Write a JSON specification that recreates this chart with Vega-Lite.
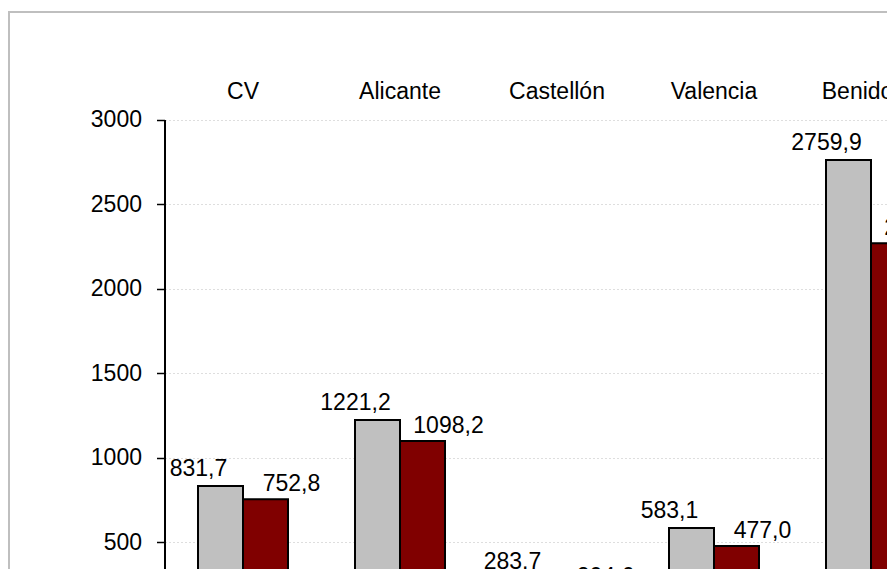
{
  "$schema": "https://vega.github.io/schema/vega-lite/v6.json",
  "width": 900,
  "height": 580,
  "autosize": {"type": "none"},
  "padding": {"left": 9, "top": 12, "right": -22, "bottom": -23},
  "config": {
    "font": "Liberation Sans",
    "view": {"stroke": "#bfbfbf", "strokeWidth": 2}
  },
  "data": {
    "values": [
      {"zona": "CV", "serie": "S1", "valor": 831.7, "label": "831,7"},
      {"zona": "CV", "serie": "S2", "valor": 752.8, "label": "752,8"},
      {"zona": "Alicante", "serie": "S1", "valor": 1221.2, "label": "1221,2"},
      {"zona": "Alicante", "serie": "S2", "valor": 1098.2, "label": "1098,2"},
      {"zona": "Castellón", "serie": "S1", "valor": 283.7, "label": "283.7"},
      {"zona": "Castellón", "serie": "S2", "valor": 204.6, "label": "204.6"},
      {"zona": "Valencia", "serie": "S1", "valor": 583.1, "label": "583,1"},
      {"zona": "Valencia", "serie": "S2", "valor": 477.0, "label": "477,0"},
      {"zona": "Benidorm", "serie": "S1", "valor": 2759.9, "label": "2759,9"},
      {"zona": "Benidorm", "serie": "S2", "valor": 2267.5, "label": "2267,5"}
    ]
  },
  "encoding": {
    "x": {
      "field": "zona",
      "type": "nominal",
      "sort": ["CV", "Alicante", "Castellón", "Valencia", "Benidorm"],
      "scale": {"range": [155.5, 940.5], "paddingInner": 0.4268, "paddingOuter": 0.2134},
      "axis": {
        "orient": "top",
        "title": null,
        "domain": false,
        "ticks": false,
        "tickSize": 0,
        "labelPadding": 0,
        "offset": -86.3,
        "labelFontSize": 23,
        "labelColor": "#000000",
        "labelAngle": 0,
        "labelBaseline": "alphabetic",
        "grid": false
      }
    },
    "xOffset": {
      "field": "serie",
      "type": "nominal",
      "scale": {"paddingInner": 0, "paddingOuter": 0}
    },
    "y": {
      "field": "valor",
      "type": "quantitative",
      "scale": {"domain": [0, 3000], "range": [614.5, 107.5], "nice": false},
      "axis": {
        "values": [0, 500, 1000, 1500, 2000, 2500, 3000],
        "format": "d",
        "title": null,
        "offset": -155.5,
        "domainColor": "#000000",
        "domainWidth": 2,
        "tickColor": "#000000",
        "tickWidth": 1.5,
        "tickSize": 8,
        "labelFontSize": 23,
        "labelColor": "#000000",
        "labelPadding": 15,
        "grid": true,
        "gridColor": "#dedede",
        "gridDash": [2, 2],
        "gridWidth": 1
      }
    }
  },
  "layer": [
    {
      "mark": {"type": "bar", "stroke": "#000000", "strokeWidth": 2},
      "encoding": {
        "color": {
          "field": "serie",
          "type": "nominal",
          "scale": {"domain": ["S1", "S2"], "range": ["#c0c0c0", "#800000"]},
          "legend": null
        }
      }
    },
    {
      "transform": [{"filter": "datum.serie === 'S1'"}],
      "mark": {"type": "text", "dx": -22, "dy": -10, "baseline": "alphabetic", "fontSize": 23, "color": "#000000"},
      "encoding": {"text": {"field": "label"}}
    },
    {
      "transform": [{"filter": "datum.serie === 'S2'"}],
      "mark": {"type": "text", "dx": 26, "dy": -8, "baseline": "alphabetic", "fontSize": 23, "color": "#000000"},
      "encoding": {"text": {"field": "label"}}
    }
  ]
}
